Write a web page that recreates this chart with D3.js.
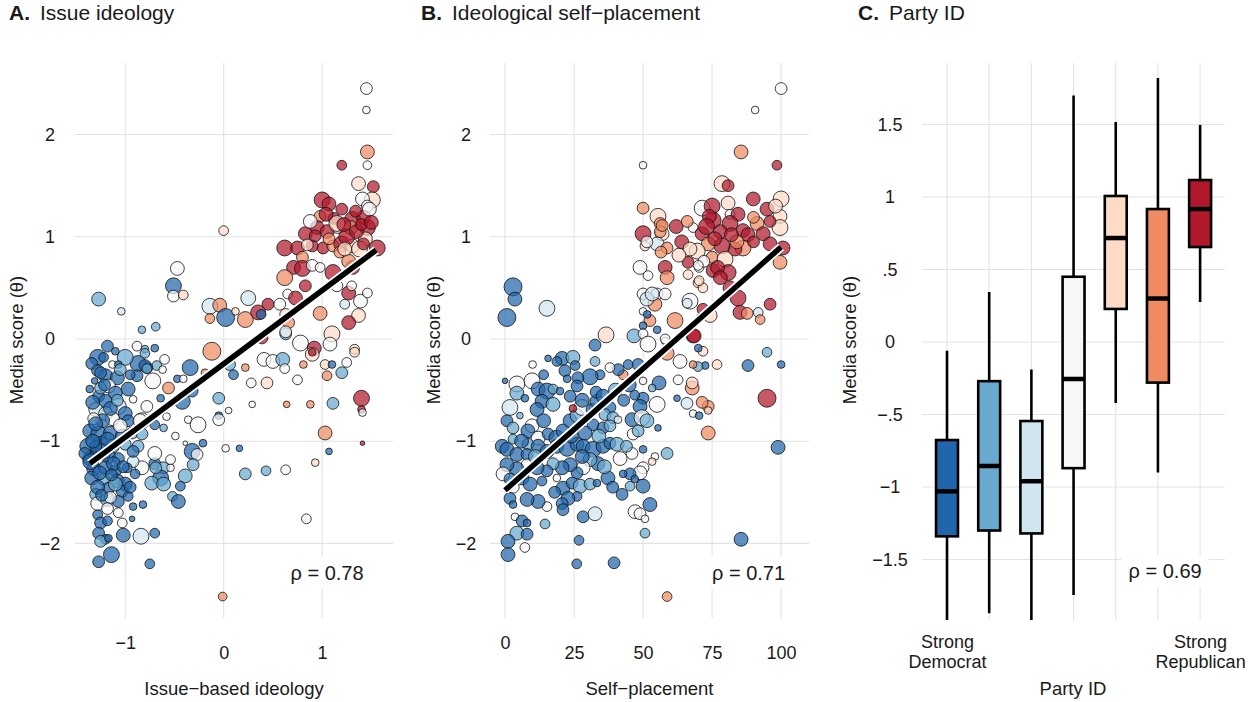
<!DOCTYPE html>
<html>
<head>
<meta charset="utf-8">
<script src="https://cdn.jsdelivr.net/npm/d3@7"></script>
<style>
  body { margin: 0; background: #fff; }
  text { font-family: "Liberation Sans", Arial, sans-serif; fill: #1a1a1a; }
</style>
</head>
<body>
<script>
// Page size.

const W = 1255;
const H = 702;

// Party ID colours (strong Democrat -> strong Republican).

const PARTY_COLORS = ["#2166ac", "#67a9cf", "#d1e5f0", "#f7f7f7", "#fddbc7", "#ef8a62", "#b2182b"];

//----------------------------------------------------------------------------//
//                                    DATA                                    //
//----------------------------------------------------------------------------//

// Panel A points: [issue ideology, media score, party id, weight].

const issuePoints = [
    [1.45,2.45,4,5],[1.45,2.24,4,3],[1.46,1.83,6,6],[1.20,1.70,7,4],[1.46,1.70,4,3.5],
    [1.37,1.52,5,6],[1.52,1.49,7,5],[1.51,1.36,5,7],[1.41,1.37,4,6],[1.46,1.30,4,5],
    [1.0,1.36,7,7],[1.07,1.32,7,6],[1.20,1.27,7,5],[0.98,1.20,6,5],[1.16,1.11,5,7],
    [0.95,1.09,7,6],[1.31,1.17,7,7],[1.46,1.09,7,7],[1.42,1.19,7,6],[1.29,1.09,6,6],
    [0.83,1.03,7,6],[0.90,0.91,7,5],[0.62,0.89,7,7],[0.75,0.89,7,6],[1.01,0.89,7,5],
    [1.11,0.91,6,5],[1.20,0.93,7,7],[1.31,0.91,5,6],[1.56,0.89,7,7],[1.44,0.98,5,6],
    [0.80,0.80,6,5],[0.71,0.70,7,6],[0.80,0.69,7,7],[0.90,0.72,4,5],[0.98,0.70,4,4],
    [0.62,0.60,6,7],[0.83,0.52,7,5],[1.11,0.65,7,7],[1.31,0.70,7,6],[1.27,0.76,6,6],
    [1.15,0.52,4,5],[1.27,0.45,7,6],[1.39,0.37,4,6],[1.37,0.23,5,6],[1.27,0.16,7,6],
    [0.98,0.25,6,6],[0.65,0.44,4,4],[0.73,0.40,7,6],[1.46,0.45,4,4],[1.23,0.34,3,4],
    [1.30,0.52,4,4],[1.05,1.05,7,6],[1.25,1.00,7,7],[1.35,1.05,7,6],[1.40,1.12,7,5],
    [0.88,1.15,4,6],[1.12,1.18,7,5],[1.38,0.88,5,7],[1.48,1.27,4,6],[0.85,0.92,5,5],
    [1.18,0.85,6,5],[1.42,0.93,7,5],[1.15,1.13,5,7],[1.04,1.22,7,6],[1.22,1.12,7,6],
    [1.34,1.25,7,5],[1.50,1.14,7,6],[0.93,1.01,7,5],[1.07,0.98,6,5],[1.23,0.88,5,6],
    [-1.27,0.39,2,6],[-1.04,0.27,3,3],[-0.83,0.09,2,3],[-0.69,0.12,2,3.5],[-0.47,0.69,4,6],
    [-0.51,0.52,1,7],[-0.51,0.42,4,5],[-0.41,0.43,5,4],[0.0,1.06,5,4],[-0.14,0.32,3,7],
    [-0.04,0.33,6,6],[0.02,0.21,1,8],[-0.14,0.20,6,4],[0.12,0.27,5,3],[0.25,0.40,3,6.5],
    [0.22,0.19,6,7],[0.35,0.26,7,6.5],[0.38,0.24,1,4],[0.45,0.34,7,5],[0.57,0.34,4,5],
    [0.63,0.24,5,5],[0.66,0.16,6,5],[0.63,0.05,2,5],[0.63,0.07,4,5],[0.78,-0.04,4,7],
    [0.92,-0.09,7,6],[1.10,0.05,5,7],[1.08,-0.05,4,6],[1.33,-0.10,5,4],[0.39,0.01,7,5],
    [-0.88,-0.07,4,4],[-0.70,-0.09,1,3],[-0.80,-0.10,2,3],[-1.18,-0.07,1,5],[-0.12,-0.12,6,8],
    [-0.34,-0.28,1,7],[-0.19,-0.33,6,3],[-0.56,-0.48,6,5],[-0.47,-0.39,1,3],[-0.41,-0.39,4,3],
    [-0.72,-0.41,4,7],[-0.68,-0.26,2,4],[-0.78,-0.28,1,5],[-0.87,-0.24,1,7],[-1.0,-0.18,2,7],
    [-0.88,-0.36,1,5],[-0.42,-0.61,1,7],[-0.32,-0.51,1,5],[-0.78,-0.66,4,5],[-0.83,-0.80,4,7],
    [-0.70,-0.84,1,4],[-0.61,-0.87,2,3],[-0.58,-0.76,4,3],[-0.36,-0.79,4,3],[-0.26,-0.84,4,7],
    [-0.49,-0.95,4,3],[-0.21,-1.02,1,3],[-0.39,-1.02,4,1.5],[-0.32,-1.10,1,7],[-0.27,-1.13,4,5],
    [-0.31,-1.23,2,5],[-0.39,-1.34,2,6],[-0.44,-1.44,1,4],[-0.52,-1.54,2,4],[-0.46,-1.59,1,6],
    [-0.70,-1.22,1,5],[-0.61,-1.26,2,5],[-0.54,-1.26,4,3],[-0.54,-1.18,4,4],[-0.70,-1.12,4,6],
    [-0.83,-1.26,4,6],[-0.92,-1.20,3,5],[-0.98,-1.26,1,4],[-0.64,-1.36,1,7],[-0.73,-1.41,2,6],
    [-0.61,-1.42,2,6],[-0.92,-1.64,1,3],[-0.93,-1.76,1,2],[-1.03,-1.80,4,4],[-1.02,-1.92,1,6],
    [-0.84,-1.93,3,7],[-0.70,-1.90,1,4],[-0.75,-2.20,1,4],[-1.14,-2.11,1,7],[-1.27,-2.18,1,5],
    [-0.01,-2.52,6,3.5],
    [0.06,-0.25,2,5],[0.10,-0.35,1,4],[0.22,-0.28,6,3],[0.28,-0.43,4,4],[0.44,-0.43,5,5],
    [0.41,-0.20,4,6],[0.50,-0.22,4,6],[0.60,-0.20,2,6],[0.62,-0.29,4,4],[0.75,-0.40,4,4],
    [0.81,-0.25,6,3],[0.90,-0.15,5,6],[0.90,-0.13,7,3],[1.03,-0.25,5,4],[1.10,-0.25,1,3],
    [1.05,-0.36,6,4],[1.20,-0.33,2,5],[1.25,-0.23,4,4],[1.33,-0.13,5,4],[1.40,-0.58,7,7],
    [1.40,-0.69,7,3],[1.41,-0.72,4,3],[1.11,-0.63,2,5],[0.88,-0.64,6,3],[0.64,-0.64,6,2.5],
    [0.29,-0.64,4,2.5],[-0.05,-0.58,2,5],[-0.05,-0.75,1,3],[0.05,-0.70,4,2.5],[-0.05,-0.79,4,5],
    [0.02,-1.07,4,3],[0.16,-1.07,1,2.5],[0.22,-1.32,2,5],[0.43,-1.29,2,4],[0.63,-1.28,4,4],
    [0.93,-1.21,5,3],[1.03,-0.92,6,6],[1.07,-1.10,1,2.5],[1.41,-1.02,7,1.5],[0.84,-1.76,4,4],
    [-1.28,-0.18,1,7],[-1.34,-0.24,1,5],[-1.22,-0.18,1,4],[-1.13,-0.25,4,3],[-1.07,-0.25,1,3],
    [-0.80,-0.14,2,4],[-0.80,-0.26,1,5],[-0.60,-0.20,4,4],[-0.78,-0.29,2,4],[-0.62,-0.30,4,3],
    [-1.28,-0.31,1,5],[-1.20,-0.36,1,6],[-1.08,-0.38,1,6],[-1.31,-0.41,1,2.5],[-1.17,-0.46,4,6],
    [-0.97,-0.49,1,6],[-1.10,-0.53,1,6],[-1.27,-0.56,1,5],[-1.36,-0.49,1,3],[-1.20,-0.61,1,6],
    [-0.92,-0.59,4,3],[-1.07,-0.66,3,7],[-0.64,-0.58,1,3],[-1.30,-0.69,3,6],[-1.20,-0.73,3,6],
    [-1.0,-0.73,1,6],[-1.13,-0.78,4,6],[-1.23,-0.80,1,6],[-1.32,-0.78,4,5],[-0.97,-0.80,1,5],
    [-0.85,-0.80,4,6],[-0.75,-0.78,1,3],[-1.36,-0.90,1,6],[-1.27,-0.93,1,7],[-1.15,-0.92,1,6],
    [-1.03,-0.95,1,6],[-0.93,-0.92,2,5],[-0.83,-0.93,2,5],[-1.38,-1.05,1,7],[-1.25,-1.03,1,7],
    [-1.13,-1.05,1,6],[-1.0,-1.03,2,5],[-0.87,-1.05,2,5],[-1.30,-1.13,1,6],[-1.17,-1.15,1,6],
    [-1.07,-1.17,1,5],[-1.32,-1.27,1,6],[-1.20,-1.26,1,6],[-1.10,-1.29,1,5],[-1.34,-1.36,1,6],
    [-1.22,-1.37,2,5],[-1.08,-1.39,1,6],[-1.0,-1.42,1,6],[-0.69,-1.26,2,5],[-1.17,-1.46,1,5],
    [-1.03,-1.49,1,5],[-1.30,-1.52,2,5],[-0.97,-1.54,1,4],[-1.28,-1.61,4,6],[-1.18,-1.57,2,6],
    [-1.07,-1.59,1,5],[-1.18,-1.66,4,5],[-1.07,-1.70,4,4],[-0.82,-1.62,1,3],[-1.28,-1.72,1,4],
    [-1.25,-1.80,1,5],[-1.27,-1.90,1,5],[-1.20,-1.96,1,4],[-1.25,-1.98,2,5],[-1.17,-1.95,1,3],
    [-1.36,-1.17,1,6],[-1.41,-1.12,1,5],[-1.33,-0.62,1,6],[-1.25,-0.48,2,5],[-1.15,-0.68,1,6],
    [-1.05,-0.85,4,6],[-1.22,-1.10,1,7],[-1.12,-1.22,1,6],[-1.28,-1.45,1,6],[-1.15,-1.55,4,5],
    [-1.02,-1.25,1,5],[-0.92,-1.10,1,5],[-1.35,-1.20,1,7],[-1.25,-0.33,1,5],[-1.10,-0.12,1,3],
    [-1.05,-0.30,2,5],[-0.95,-0.35,1,4],[-1.18,-1.78,1,4],[-1.30,-1.05,1,5],[-1.10,-1.42,2,6],
    [-0.90,-1.32,1,4],[-0.95,-1.45,1,5],[-1.30,-0.83,1,6],[-1.18,-0.98,1,6],[-1.33,-1.00,1,6],
    [-1.26,-1.31,1,6],[-1.14,-1.33,1,5],[-1.21,-0.45,1,5],[-1.08,-0.60,2,5],[-1.24,-1.53,1,5],
];

// Panel B points: [self-placement, media score, party id, weight].

const selfPoints = [
    [100,2.45,4,5],[90.6,2.24,4,3],[85.5,1.83,6,6],[98.5,1.70,7,4],[50,1.70,4,3],
    [78.6,1.52,5,7],[80.8,1.50,7,5],[89.9,1.37,7,6],[100,1.37,5,7],[50,1.28,6,5],
    [55.4,1.20,5,7],[71.4,1.28,4,7],[75,1.30,7,7],[80.8,1.33,5,6],[81.5,1.22,4,4],
    [84.4,1.22,7,6],[94.9,1.27,7,6],[99.6,1.20,5,6],[75.4,1.16,7,7],[68.1,1.09,4,4],
    [56.2,1.13,6,5],[50,1.03,7,7],[56.9,1.03,5,6],[55.1,0.93,3,6],[50.7,0.91,5,4],
    [58.7,0.89,6,5],[71.4,1.03,7,6],[81.5,1.13,7,7],[86.2,1.06,7,6],[91.3,1.13,6,6],
    [93.5,1.03,7,6],[99.6,1.09,5,7],[100.7,0.89,7,6],[96,0.93,7,6],[99.6,0.75,6,6],
    [86.2,0.89,6,7],[83.3,0.88,7,6],[78.6,0.91,7,7],[73.6,0.93,6,6],[69.6,0.86,5,7],
    [75,0.80,6,5],[79.7,0.78,5,7],[66.3,0.75,7,5],[70.3,0.70,4,4],[75.4,0.67,7,6],
    [80.8,0.65,7,7],[58,0.70,7,6],[58.7,0.60,6,6],[48.9,0.70,4,6],[51.8,0.62,4,4],
    [66.3,0.63,5,4],[69.9,0.55,5,4],[71.7,0.50,5,4],[81.5,0.50,7,6],[84.4,0.40,7,7],
    [96,0.34,7,5],[91.7,0.26,3,4],[92.4,0.19,6,4],[85.1,0.26,7,6],[87.7,0.25,6,5],
    [67,0.37,4,7],[71.7,0.29,7,5],[74.3,0.23,5,6],[70.7,0.21,3,3],[61.6,0.18,6,7],
    [52.5,0.18,6,5],[50,0.44,4,5],[55.1,0.44,4,5],[54.3,0.34,6,6],[51.4,0.39,3,6],
    [50,0.27,4,3],[51.5,0.24,1,3],[68.1,0.03,7,6],[55.1,0.09,1,3],[50,0.13,1,3],
    [46.7,0.03,2,6],[50,0.05,4,4],[36.6,0.04,5,7],[32.6,-0.06,1,5],[51.8,-0.05,4,7],
    [58,-0.02,4,3],[2.9,0.51,1,8],[3.6,0.39,1,6],[0.7,0.21,1,8],[15.2,0.30,3,7],
    [56.2,1.05,6,5],[56.5,0.85,6,5],[51.4,0.95,4,5],[74,1.20,7,6],[78,1.05,7,6],
    [88,1.02,7,6],[84,0.95,6,6],[64,0.95,7,6],[67,0.88,5,6],[72,0.76,4,5],
    [77,0.70,7,6],[90,1.19,6,5],[96,1.15,7,5],[98,1.30,5,6],[62,1.10,7,6],
    [66,1.15,6,5],[56.9,1.11,6,5],[53.3,0.44,3,6],[58,0.44,4,5],[70,0.72,4,4],
    [70.3,0.57,5,4],[66,0.35,3,4],[73,1.10,7,7],[76,0.98,7,6],[82,1.02,7,6],
    [90,0.95,7,5],[63,0.82,5,6],[78,0.60,7,6],
    [94.9,-0.13,2,4],[88,-0.26,1,5],[100,-0.25,1,3],[76.8,-0.25,5,4],[72.5,-0.26,1,3],
    [69.9,-0.27,2,4],[68.1,-0.25,6,3],[71.7,-0.12,5,4],[70,-0.09,1,3],[94.9,-0.58,7,8],
    [73.6,-0.66,6,5],[73.6,-0.70,5,3],[73.6,-0.92,6,6],[98.9,-1.06,1,6],[85.5,-1.96,1,6],
    [58.7,-2.52,6,4],[39.5,-2.19,1,5],[26,-2.20,1,4],[26.8,-1.97,1,4],[65.9,-0.63,3,5],
    [68.1,-0.73,4,3],[70.3,-0.75,1,3],[62.3,-0.58,1,2.5],[67.8,-0.48,6,6],[67.8,-0.43,5,5],
    [62.7,-0.40,4,4],[63.4,-0.22,4,6],[58.7,-0.14,6,6],[55.8,-0.43,1,6],[55.1,-0.64,4,7],
    [50,-0.58,1,5],[48.9,-0.66,1,6],[50,-0.41,4,3],[48.2,-0.25,1,5],[44.6,-0.25,1,4],
    [42.8,-0.35,6,4],[41,-0.30,1,5],[38,-0.28,4,4],[34.4,-0.35,1,4],[30.8,-0.37,1,7],
    [32.6,-0.22,2,4],[20.7,-0.19,1,6],[24.6,-0.18,2,6],[18.8,-0.22,1,4],[15.6,-0.19,1,2.5],
    [21.7,-0.31,1,5],[25.4,-0.26,1,4],[26.4,-0.38,1,5],[22.5,-0.39,1,3],[26.1,-0.46,1,5],
    [4.3,-0.44,4,7],[0,-0.41,1,2],[9.8,-0.41,4,7],[4.3,-0.53,2,6],[7.2,-0.58,1,3],
    [12,-0.49,1,6],[15.2,-0.51,1,7],[17.4,-0.49,2,4],[13.4,-0.61,1,6],[17.4,-0.64,2,6],
    [19.9,-0.51,1,3],[23.6,-0.56,1,5],[1.8,-0.67,3,7],[11.6,-0.69,1,6],[5.4,-0.75,2,2.5],
    [9.8,-0.85,4,6],[0.7,-0.80,1,5],[2.9,-0.87,2,5],[8.3,-0.90,1,6],[12,-0.97,4,6],
    [15.6,-0.93,1,5],[18.8,-0.97,1,7],[21,-0.90,1,6],[23.6,-0.80,1,6],[26.1,-0.75,2,6],
    [27.9,-0.67,4,7],[31.5,-0.69,1,5],[33.3,-0.61,1,6],[33,-0.52,1,5],[35.5,-0.56,1,6],
    [38,-0.67,1,5],[36.2,-0.74,2,5],[39.1,-0.77,2,5],[40.9,-0.79,4,3],[31.9,-0.84,1,5],
    [35.5,-0.87,1,5],[38,-0.85,2,5],[46,-0.79,1,6],[49.6,-0.77,4,7],[51.4,-0.80,2,6],
    [55.4,-0.87,1,2.5],[46.4,-0.93,4,5],[48.2,-0.90,2,5],[-1,-1.05,1,6],[0.7,-1.08,1,6],
    [2.9,-0.98,2,4],[4.3,-1.13,1,6],[8.3,-1.03,2,5],[8,-1.13,1,5],[12,-1.05,1,6],
    [15.2,-1.10,1,6],[18.8,-1.05,1,6],[22.5,-1.07,1,7],[26.1,-1.03,1,6],[28.3,-1.05,1,6],
    [31.9,-1.08,1,7],[35.5,-1.05,1,6],[38,-1.02,1,5],[40.6,-1.03,2,6],[41.7,-1.17,4,6],
    [46,-1.12,4,5],[50,-1.08,1,3],[54.3,-1.15,4,3],[53.3,-1.20,5,3],[58.7,-1.12,2,5],
    [50,-1.26,4,5],[48.9,-1.31,4,6],[45.3,-1.32,1,5],[47,-1.37,1,3],[42.8,-1.32,1,3],
    [37.3,-1.36,1,6],[33.7,-1.22,1,6],[30.8,-1.18,2,6],[28.3,-1.26,4,6],[26.1,-1.31,1,5],
    [23.6,-1.23,1,6],[20.7,-1.26,1,6],[17.4,-1.22,2,5],[15.2,-1.29,1,5],[11.6,-1.26,1,6],
    [8,-1.23,4,5],[4.3,-1.27,1,6],[0.7,-1.23,1,6],[-0.7,-1.32,4,6],[1.8,-1.37,1,5],
    [6.2,-1.36,1,6],[9.1,-1.42,1,6],[13.4,-1.39,1,4],[18.8,-1.36,4,3],[21,-1.46,1,6],
    [24.3,-1.41,1,5],[27.2,-1.44,2,6],[30.8,-1.42,2,5],[33.3,-1.41,1,3],[26.1,-1.54,1,4],
    [22.8,-1.56,1,6],[20.7,-1.61,1,5],[21,-1.67,1,5],[15.2,-1.64,4,4],[12,-1.59,1,6],
    [8,-1.57,1,6],[1.8,-1.56,1,5],[2.9,-1.62,1,3],[3.6,-1.74,4,3],[6.2,-1.78,1,5],
    [8,-1.80,1,3],[14.5,-1.81,2,4],[4.3,-1.90,2,6],[8,-1.91,1,5],[1.1,-1.98,1,6],
    [7.2,-2.04,4,4],[1.1,-2.11,1,6],[28.3,-1.74,1,5],[32.6,-1.71,3,6],[42.4,-1.52,1,5],
    [45.3,-1.44,2,4],[50,-1.44,1,6],[47.1,-1.69,4,6],[48.9,-1.71,4,5],[50.7,-1.76,4,3],
    [52.5,-1.62,1,6],[50.7,-1.90,2,4],[53.3,-0.48,2,3],[71.4,-0.62,6,5],[58,0.0,4,4],
    [68.5,0.03,7,6],[24,-0.95,1,6],[29,-0.92,1,6],[34,-0.95,2,6],[43,-0.60,1,5],
    [45,-0.45,1,6],[40,-0.50,2,6],[28,-1.15,1,6],[36,-1.25,2,6],[14,-0.80,1,6],
    [6,-1.00,1,6],[11,-1.15,2,6],[3,-1.45,4,5],[18,-1.50,1,5],[39,-1.45,1,5],
    [44,-1.05,2,5],[10,-0.25,4,3],[14,-0.35,1,4],[28,-0.60,1,6],[47,-0.55,1,4],
    [24.6,-0.68,7,3],
];

// Fitted lines: [x, media score] at both ends.

const issueFit = [[-1.36, -1.22], [1.55, 0.87]];
const selfFit = [[0, -1.48], [100, 0.90]];

// Rank correlations.

const rhoValues = ["0.78", "0.71", "0.69"];

// Panel C box plot summaries, one per party ID category.

const partyLevels = [1, 2, 3, 4, 5, 6, 7];
const partyTickLabels = ["Strong\nDemocrat", "", "", "", "", "", "Strong\nRepublican"];
const boxLow = [-2.10, -1.87, -2.05, -1.745, -0.42, -0.90, 0.276];
const boxQ1 = [-1.34, -1.30, -1.32, -0.87, 0.228, -0.28, 0.655];
const boxMedian = [-1.03, -0.855, -0.96, -0.255, 0.717, 0.30, 0.917];
const boxQ3 = [-0.676, -0.27, -0.545, 0.45, 1.007, 0.917, 1.117];
const boxHigh = [-0.06, 0.345, -0.19, 1.70, 1.517, 1.82, 1.497];

//----------------------------------------------------------------------------//
//                                   SETUP                                    //
//----------------------------------------------------------------------------//

const svg = d3.select("body").append("svg")
    .attr("width", W)
    .attr("height", H);

const partyColor = d3.scaleOrdinal()
    .domain(partyLevels)
    .range(PARTY_COLORS);

const sizeScale = d3.scaleLinear()
    .domain([1, 9])
    .range([1.8, 10]);

const GRID = "#e3e3e3";
const TICK_FS = 18;
const AXIS_FS = 18.5;

function minusFmt(d) {
    return d < 0 ? "\u2212" + Math.abs(d) : String(d);
}

function panelTitle(x, letter, label) {
    svg.append("text")
        .attr("x", x)
        .attr("y", 20)
        .attr("font-size", 21)
        .attr("font-weight", "bold")
        .text(letter);
    svg.append("text")
        .attr("x", x + 31)
        .attr("y", 20)
        .attr("font-size", 21)
        .text(label);
}

function yTitle(x, cy) {
    svg.append("text")
        .attr("transform", `translate(${x}, ${cy}) rotate(-90)`)
        .attr("text-anchor", "middle")
        .attr("dy", "0.35em")
        .attr("font-size", AXIS_FS)
        .text("Media score (\u03b8)");
}

function rhoLabel(g, x, y, value) {
    const lab = g.append("g");
    const rect = lab.append("rect").attr("fill", "#fff");
    const txt = lab.append("text")
        .attr("x", x)
        .attr("y", y)
        .attr("dy", "0.35em")
        .attr("text-anchor", "middle")
        .attr("font-size", 20)
        .text("\u03c1 = " + value);
    const bb = txt.node().getBBox();
    rect.attr("x", bb.x - 7)
        .attr("y", bb.y - 5)
        .attr("width", bb.width + 14)
        .attr("height", bb.height + 10);
}

//----------------------------------------------------------------------------//
//                               SCATTER PANELS                               //
//----------------------------------------------------------------------------//

function scatterPanel(cfg) {

    const x = d3.scaleLinear().domain(cfg.xDomain).range([cfg.left, cfg.right]);
    const y = d3.scaleLinear().domain([-2.73, 2.70]).range([618, 63]);

    const g = svg.append("g");

    // Grid.

    g.selectAll(".vgrid")
        .data(cfg.xTicks)
        .join("line")
            .attr("x1", d => x(d)).attr("x2", d => x(d))
            .attr("y1", 63).attr("y2", 618)
            .attr("stroke", GRID).attr("stroke-width", 1.1);

    g.selectAll(".hgrid")
        .data([-2, -1, 0, 1, 2])
        .join("line")
            .attr("x1", cfg.left).attr("x2", cfg.right)
            .attr("y1", d => y(d)).attr("y2", d => y(d))
            .attr("stroke", GRID).attr("stroke-width", 1.1);

    // Axes.

    const xAx = g.append("g")
        .attr("transform", "translate(0, 618)")
        .call(d3.axisBottom(x).tickValues(cfg.xTicks).tickSize(0).tickFormat(minusFmt));
    xAx.select(".domain").remove();
    xAx.selectAll("text")
        .attr("font-size", TICK_FS)
        .attr("fill", "#1a1a1a")
        .attr("dy", "0.35em")
        .attr("y", (d, i) => i === 0 ? 25 : 35);

    const yAx = g.append("g")
        .attr("transform", `translate(${cfg.left}, 0)`)
        .call(d3.axisLeft(y).tickValues([-2, -1, 0, 1, 2]).tickSize(0).tickFormat(minusFmt));
    yAx.select(".domain").remove();
    yAx.selectAll("text")
        .attr("font-size", TICK_FS)
        .attr("fill", "#1a1a1a")
        .attr("text-anchor", "middle")
        .attr("x", -cfg.yLabOffset);

    // Points.

    g.append("g")
        .selectAll("circle")
        .data(cfg.points)
        .join("circle")
            .attr("cx", d => x(d[0]))
            .attr("cy", d => y(d[1]))
            .attr("r", d => sizeScale(d[3]))
            .attr("fill", d => partyColor(d[2]))
            .attr("fill-opacity", 0.72)
            .attr("stroke", "#111")
            .attr("stroke-width", 0.8);

    // Fit line.

    const line = d3.line().x(d => x(d[0])).y(d => y(d[1]));

    g.append("path")
        .attr("d", line(cfg.fit))
        .attr("stroke", "#fff")
        .attr("stroke-width", 9)
        .attr("fill", "none");
    g.append("path")
        .attr("d", line(cfg.fit))
        .attr("stroke", "#000")
        .attr("stroke-width", 5.5)
        .attr("fill", "none");

    rhoLabel(g, x(cfg.rhoAt[0]), y(cfg.rhoAt[1]), cfg.rho);

    // Axis titles.

    svg.append("text")
        .attr("x", (cfg.left + cfg.right) / 2)
        .attr("y", 689)
        .attr("dy", "0.35em")
        .attr("text-anchor", "middle")
        .attr("font-size", AXIS_FS)
        .text(cfg.xTitle);

    yTitle(cfg.yTitleX, 340);
    panelTitle(cfg.titleX, cfg.letter, cfg.title);
}

scatterPanel({
    left: 75, right: 393,
    xDomain: [-1.51, 1.72],
    xTicks: [-1, 0, 1],
    points: issuePoints,
    fit: issueFit,
    rho: rhoValues[0],
    rhoAt: [1.05, -2.29],
    yLabOffset: 25,
    yTitleX: 17,
    xTitle: "Issue\u2212based ideology",
    titleX: 9, letter: "A.", title: "Issue ideology",
});

scatterPanel({
    left: 490, right: 809,
    xDomain: [-5.43, 110.1],
    xTicks: [0, 25, 50, 75, 100],
    points: selfPoints,
    fit: selfFit,
    rho: rhoValues[1],
    rhoAt: [88.2, -2.29],
    yLabOffset: 24,
    yTitleX: 434,
    xTitle: "Self\u2212placement",
    titleX: 421, letter: "B.", title: "Ideological self\u2212placement",
});

//----------------------------------------------------------------------------//
//                                 BOX PANEL                                  //
//----------------------------------------------------------------------------//

const cLeft = 922, cRight = 1225, cTop = 63, cBottom = 620;

const xC = d3.scaleLinear().domain([0.407, 7.59]).range([cLeft, cRight]);
const yC = d3.scaleLinear().domain([-1.917, 1.924]).range([cBottom, cTop]);
const cTicks = [-1.5, -1, -0.5, 0, 0.5, 1, 1.5];

const gC = svg.append("g");

svg.append("clipPath")
    .attr("id", "clipC")
    .append("rect")
        .attr("x", cLeft).attr("y", cTop)
        .attr("width", cRight - cLeft).attr("height", cBottom - cTop);

gC.selectAll(".vgrid")
    .data(partyLevels)
    .join("line")
        .attr("x1", d => xC(d)).attr("x2", d => xC(d))
        .attr("y1", cTop).attr("y2", cBottom)
        .attr("stroke", GRID).attr("stroke-width", 1.1);

gC.selectAll(".hgrid")
    .data(cTicks)
    .join("line")
        .attr("x1", cLeft).attr("x2", cRight)
        .attr("y1", d => yC(d)).attr("y2", d => yC(d))
        .attr("stroke", GRID).attr("stroke-width", 1.1);

const cFmt = d => {
    const s = String(Math.abs(d)).replace(/^0\./, ".");
    return d < 0 ? "\u2212" + s : s;
};

const yAxC = gC.append("g")
    .attr("transform", `translate(${cLeft}, 0)`)
    .call(d3.axisLeft(yC).tickValues(cTicks).tickSize(0).tickFormat(cFmt));
yAxC.select(".domain").remove();
yAxC.selectAll("text")
    .attr("font-size", TICK_FS)
    .attr("fill", "#1a1a1a")
    .attr("text-anchor", "middle")
    .attr("x", -32);

const xAxC = gC.append("g")
    .attr("transform", `translate(0, ${cBottom})`)
    .call(d3.axisBottom(xC).tickValues(partyLevels).tickSize(0).tickFormat((d, i) => partyTickLabels[i]));
xAxC.select(".domain").remove();
xAxC.selectAll("text")
    .attr("font-size", TICK_FS)
    .attr("fill", "#1a1a1a")
    .attr("y", 0)
    .attr("dy", null)
    .each(function(d, i) {
        const lines = partyTickLabels[i].split("\n");
        const t = d3.select(this).text(null);
        lines.forEach((s, k) => {
            t.append("tspan")
                .attr("x", 0)
                .attr("y", 22 + k * 20)
                .attr("dy", "0.35em")
                .text(s);
        });
    });

// Boxes.

const boxes = partyLevels.map((p, i) => ({
    p: p, lo: boxLow[i], q1: boxQ1[i], med: boxMedian[i], q3: boxQ3[i], hi: boxHigh[i],
}));

const boxW = 0.52;
const bg = gC.append("g").attr("clip-path", "url(#clipC)");

bg.selectAll(".whisker")
    .data(boxes)
    .join("line")
        .attr("x1", d => xC(d.p)).attr("x2", d => xC(d.p))
        .attr("y1", d => yC(d.lo)).attr("y2", d => yC(d.hi))
        .attr("stroke", "#000").attr("stroke-width", 2.6);

bg.selectAll(".box")
    .data(boxes)
    .join("rect")
        .attr("x", d => xC(d.p - boxW / 2))
        .attr("width", xC(boxW) - xC(0))
        .attr("y", d => yC(d.q3))
        .attr("height", d => yC(d.q1) - yC(d.q3))
        .attr("fill", d => partyColor(d.p))
        .attr("stroke", "#000").attr("stroke-width", 2.6);

bg.selectAll(".median")
    .data(boxes)
    .join("line")
        .attr("x1", d => xC(d.p - boxW / 2)).attr("x2", d => xC(d.p + boxW / 2))
        .attr("y1", d => yC(d.med)).attr("y2", d => yC(d.med))
        .attr("stroke", "#000").attr("stroke-width", 4.5);

rhoLabel(gC, xC(6.17), yC(-1.58), rhoValues[2]);

svg.append("text")
    .attr("x", 1073)
    .attr("y", 689)
    .attr("dy", "0.35em")
    .attr("text-anchor", "middle")
    .attr("font-size", AXIS_FS)
    .text("Party ID");

yTitle(850, 340);
panelTitle(858, "C.", "Party ID");
</script>
</body>
</html>
